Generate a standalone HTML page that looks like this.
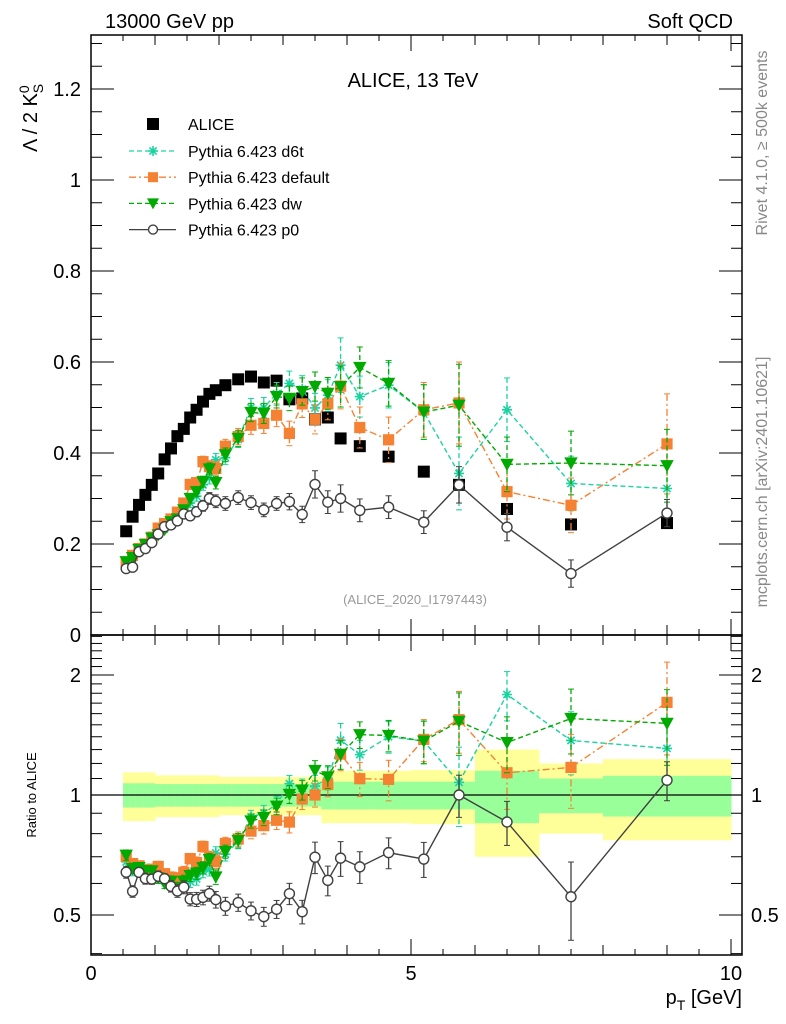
<!DOCTYPE html>
<html><head><meta charset="utf-8"><style>
body{margin:0;background:#fff;}
svg{display:block;font-family:"Liberation Sans",sans-serif;}
</style></head><body>
<svg id="chart" width="786" height="1024" viewBox="0 0 786 1024">
<defs>
<clipPath id="clipMain"><rect x="91" y="35" width="651" height="600"/></clipPath>
<clipPath id="clipRatio"><rect x="91" y="635" width="651" height="320"/></clipPath>
</defs>
<g id="bands" clip-path="url(#clipRatio)"></g>
<g id="axes"></g>
<g id="mainSeries" clip-path="url(#clipMain)"></g>
<g id="ratioSeries" clip-path="url(#clipRatio)"></g>
<text x="105" y="28" font-size="20">13000 GeV pp</text>
<text x="733" y="28" font-size="20" text-anchor="end">Soft QCD</text>
<text x="413" y="87" font-size="20" text-anchor="middle">ALICE, 13 TeV</text>
<text x="415" y="604" font-size="13" fill="#999" text-anchor="middle">(ALICE_2020_I1797443)</text>
<text transform="translate(767,143) rotate(-90)" font-size="16" fill="#888" text-anchor="middle">Rivet 4.1.0, ≥ 500k events</text>
<text transform="translate(767,482) rotate(-90)" font-size="16" fill="#888" text-anchor="middle">mcplots.cern.ch [arXiv:2401.10621]</text>
<text transform="translate(37,118) rotate(-90)" font-size="20" text-anchor="middle">Λ / 2 K<tspan font-size="14" dy="-8">0</tspan><tspan font-size="14" dx="-8" dy="14">S</tspan></text>
<text transform="translate(36,795) rotate(-90)" font-size="13" text-anchor="middle">Ratio to ALICE</text>
<text x="742" y="1004" font-size="20" text-anchor="end">p<tspan font-size="14" dy="6">T</tspan><tspan dy="-6"> [GeV]</tspan></text>
<g id="legend"></g>
</svg>
<script>
const edges=[0.5,0.6,0.7,0.8,0.9,1.0,1.1,1.2,1.3,1.4,1.5,1.6,1.7,1.8,1.9,2.0,2.2,2.4,2.6,2.8,3.0,3.2,3.4,3.6,3.8,4.0,4.4,5.0,5.5,6.0,7.0,8.0,10.0];
const pT=[0.55,0.65,0.75,0.85,0.95,1.05,1.15,1.25,1.35,1.45,1.55,1.65,1.75,1.85,1.95,2.1,2.3,2.5,2.7,2.9,3.1,3.3,3.5,3.7,3.9,4.2,4.65,5.2,5.75,6.5,7.5,9.0];
const alice=[0.228,0.260,0.286,0.308,0.330,0.355,0.386,0.410,0.437,0.453,0.478,0.495,0.513,0.530,0.538,0.549,0.562,0.568,0.555,0.559,0.518,0.520,0.474,0.478,0.432,0.415,0.392,0.359,0.330,0.277,0.243,0.246];
const yellowRel=[0.14,0.14,0.14,0.14,0.14,0.12,0.12,0.12,0.12,0.12,0.12,0.12,0.12,0.12,0.12,0.11,0.11,0.11,0.11,0.11,0.11,0.11,0.11,0.15,0.15,0.15,0.15,0.155,0.155,0.3,0.2,0.23];
const greenRel=[0.07,0.07,0.07,0.07,0.07,0.065,0.065,0.065,0.065,0.065,0.065,0.065,0.065,0.065,0.065,0.065,0.065,0.065,0.065,0.065,0.065,0.065,0.065,0.08,0.08,0.08,0.08,0.08,0.08,0.15,0.1,0.117];
const d6t=[0.155,0.168,0.185,0.195,0.21,0.22,0.235,0.245,0.255,0.275,0.29,0.305,0.33,0.345,0.385,0.39,0.43,0.50,0.50,0.53,0.553,0.54,0.499,0.527,0.593,0.524,0.549,0.49,0.355,0.495,0.333,0.322];
const d6tErr=[0.005,0.005,0.005,0.006,0.006,0.007,0.007,0.008,0.009,0.01,0.01,0.011,0.012,0.013,0.014,0.015,0.018,0.02,0.022,0.025,0.027,0.03,0.032,0.035,0.06,0.045,0.05,0.06,0.08,0.07,0.06,0.06];
const deflt=[0.16,0.175,0.19,0.2,0.215,0.235,0.245,0.255,0.27,0.29,0.331,0.335,0.381,0.370,0.366,0.415,0.436,0.461,0.465,0.483,0.443,0.508,0.474,0.508,0.547,0.456,0.429,0.495,0.51,0.315,0.285,0.42];
const defltErr=[0.005,0.005,0.005,0.006,0.006,0.007,0.007,0.008,0.009,0.01,0.01,0.011,0.012,0.013,0.014,0.015,0.018,0.02,0.022,0.025,0.027,0.03,0.032,0.035,0.05,0.045,0.05,0.06,0.09,0.06,0.06,0.11];
const dw=[0.161,0.17,0.188,0.199,0.213,0.22,0.232,0.249,0.255,0.275,0.3,0.315,0.337,0.365,0.335,0.396,0.432,0.489,0.487,0.524,0.520,0.535,0.546,0.531,0.546,0.588,0.553,0.49,0.505,0.375,0.378,0.372];
const dwErr=[0.005,0.005,0.005,0.006,0.006,0.007,0.007,0.008,0.009,0.01,0.01,0.011,0.012,0.013,0.014,0.015,0.018,0.02,0.022,0.025,0.027,0.03,0.032,0.035,0.045,0.045,0.05,0.06,0.09,0.06,0.07,0.08];
const p0=[0.146,0.149,0.183,0.190,0.203,0.222,0.238,0.242,0.251,0.266,0.262,0.271,0.284,0.300,0.294,0.289,0.302,0.291,0.275,0.289,0.293,0.265,0.331,0.292,0.300,0.274,0.281,0.248,0.330,0.237,0.135,0.268];
const p0Err=[0.005,0.005,0.005,0.006,0.006,0.007,0.007,0.008,0.009,0.01,0.01,0.011,0.012,0.013,0.014,0.015,0.015,0.015,0.015,0.015,0.018,0.018,0.03,0.025,0.03,0.025,0.025,0.025,0.04,0.03,0.03,0.03];
const mainTicks=[0,0.2,0.4,0.6,0.8,1,1.2];
const mainTickLabels=["0","0.2","0.4","0.6","0.8","1","1.2"];
const ratioTicks=[0.5,1,2];
const ratioTickLabels=["0.5","1","2"];
const xTicks=[0,5,10];
const xTickLabels=["0","5","10"];

const NS="http://www.w3.org/2000/svg";
const L=91,R=742,X0=91,XS=64;
const sx=v=>X0+v*XS;
const sy=v=>635-v*455;
const sr=v=>795-120*Math.log2(v);
function mk(tag,attrs,parent){const e=document.createElementNS(NS,tag);for(const k in attrs)e.setAttribute(k,attrs[k]);parent.appendChild(e);return e;}
const axes=document.getElementById('axes');
let f1=mk('rect',{x:L,y:35,width:R-L,height:600,fill:'none',stroke:'#000','stroke-width':1.5},axes);


let f2=mk('rect',{x:L,y:635,width:R-L,height:320,fill:'none',stroke:'#000','stroke-width':1.5},axes);


for(let i=0;i<=20;i++){const v=i*0.5;const x=sx(v);const len=(i%10==0)?16:(i%2==0?10:6);
 mk('line',{x1:x,y1:955,x2:x,y2:955-len,stroke:'#000'},axes);
 mk('line',{x1:x,y1:635,x2:x,y2:635-len,stroke:'#000'},axes);
 mk('line',{x1:x,y1:35,x2:x,y2:35+len,stroke:'#000'},axes);
 mk('line',{x1:x,y1:635,x2:x,y2:635+len,stroke:'#000'},axes);}
xTicks.forEach((v,i)=>{const t=mk('text',{x:sx(v),y:980,'font-size':20,'text-anchor':'middle'},axes);t.textContent=xTickLabels[i];
 
 });
for(let i=0;i<=26;i++){const v=i*0.05;const y=sy(v);if(y<35)continue;const len=(i%4==0)?23:11;
 mk('line',{x1:L,y1:y,x2:L+len,y2:y,stroke:'#000'},axes);
 mk('line',{x1:R,y1:y,x2:R-len,y2:y,stroke:'#000'},axes);}
mainTicks.forEach((v,i)=>{const t=mk('text',{x:81,y:sy(v)+7,'font-size':20,'text-anchor':'end'},axes);t.textContent=mainTickLabels[i];
 
 });
for(let v=0.4;v<2.55;v+=0.1){const vv=Math.round(v*10)/10;const y=sr(vv);if(y<636||y>954)continue;const maj=(vv==0.5||vv==1||vv==2);const len=maj?23:11;
 mk('line',{x1:L,y1:y,x2:L+len,y2:y,stroke:'#000'},axes);
 mk('line',{x1:R,y1:y,x2:R-len,y2:y,stroke:'#000'},axes);}
ratioTicks.forEach((v,i)=>{const t=mk('text',{x:81,y:sr(v)+7,'font-size':20,'text-anchor':'end'},axes);t.textContent=ratioTickLabels[i];
 
 
 const t2=mk('text',{x:751,y:sr(v)+7,'font-size':20},axes);t2.textContent=ratioTickLabels[i];
 
 });
const bands=document.getElementById('bands');
for(let i=0;i<alice.length;i++){const x1=sx(edges[i]),x2=sx(edges[i+1]);
 const yb=mk('rect',{x:x1,y:sr(1+yellowRel[i]),width:x2-x1+0.5,height:sr(1-yellowRel[i])-sr(1+yellowRel[i]),fill:'#ffff99'},bands);
 
 
 const gb=mk('rect',{x:x1,y:sr(1+greenRel[i]),width:x2-x1+0.5,height:sr(1-greenRel[i])-sr(1+greenRel[i]),fill:'#99ff99'},bands);
 
 }
const one=mk('line',{x1:L,y1:795,x2:R,y2:795,stroke:'#000','stroke-width':1.3},bands);



function marker(type,x,y,color,g,big){
 const s=big?1.12:1;let e;
 if(type=='sq'){e=mk('rect',{x:x-5*s,y:y-5*s,width:10*s,height:10*s,fill:color},g);}
 else if(type=='bsq'){e=mk('rect',{x:x-6,y:y-6,width:12,height:12,fill:color},g);}
 else if(type=='tri'){e=mk('path',{d:`M${x-6*s},${y-5*s}L${x+6*s},${y-5*s}L${x},${y+6*s}Z`,fill:color},g);}
 else if(type=='star'){e=mk('path',{d:`M${x-5},${y}H${x+5}M${x},${y-5}V${y+5}M${x-3.6},${y-3.6}L${x+3.6},${y+3.6}M${x-3.6},${y+3.6}L${x+3.6},${y-3.6}`,stroke:color,'stroke-width':1.6,fill:'none'},g);}
 else if(type=='circ'){e=mk('circle',{cx:x,cy:y,r:5,fill:'#fff',stroke:color,'stroke-width':1.4},g);}
 return e;}
const series=[
 {name:'d6t',vals:d6t,err:d6tErr,color:'#1ad3a0',dash:'5,3',m:'star',label:'Pythia 6.423 d6t'},
 {name:'default',vals:deflt,err:defltErr,color:'#f58233',dash:'7,3,2,3',m:'sq',label:'Pythia 6.423 default'},
 {name:'dw',vals:dw,err:dwErr,color:'#00aa00',dash:'5,3',m:'tri',label:'Pythia 6.423 dw'},
 {name:'p0',vals:p0,err:p0Err,color:'#404040',dash:'',m:'circ',label:'Pythia 6.423 p0'}];
const gm=document.getElementById('mainSeries'),gr=document.getElementById('ratioSeries');
alice.forEach((v,i)=>{const m=marker('bsq',sx(pT[i]),sy(v),'#000',gm);
 
 });
series.forEach(s=>{
 const g1=mk('g',{},gm);
 
 const g2=mk('g',{},gr);
 
 const pm=s.vals.map((v,i)=>sx(pT[i])+','+sy(v)).join(' ');
 const pr=s.vals.map((v,i)=>sx(pT[i])+','+sr(v/alice[i])).join(' ');
 const la={fill:'none',stroke:s.color,'stroke-width':1.4};if(s.dash)la['stroke-dasharray']=s.dash;
 const l1=mk('polyline',Object.assign({points:pm},la),g1);
 
 const l2=mk('polyline',Object.assign({points:pr},la),g2);
 
 s.vals.forEach((v,i)=>{const x=sx(pT[i]);
  const ea={stroke:s.color,'stroke-width':1.3};if(s.dash)ea['stroke-dasharray']=s.dash;
  const ya=sy(v+s.err[i]),yb=sy(v-s.err[i]);
  mk('line',Object.assign({x1:x,y1:ya,x2:x,y2:yb},ea),g1);
  mk('line',{x1:x-3,y1:ya,x2:x+3,y2:ya,stroke:s.color},g1);mk('line',{x1:x-3,y1:yb,x2:x+3,y2:yb,stroke:s.color},g1);
  const r=v/alice[i],re=s.err[i]/alice[i];const ra=sr(r+re),rb=sr(Math.max(r-re,0.05));
  mk('line',Object.assign({x1:x,y1:ra,x2:x,y2:rb},ea),g2);
  mk('line',{x1:x-3,y1:ra,x2:x+3,y2:ra,stroke:s.color},g2);mk('line',{x1:x-3,y1:rb,x2:x+3,y2:rb,stroke:s.color},g2);
  const m1=marker(s.m,x,sy(v),s.color,g1,true);
  
  
  const m2=marker(s.m,x,sr(r),s.color,g2,true);
  
  });
});
const lg=document.getElementById('legend');
const la0=marker('bsq',153,124,'#000',lg);

const lt0=mk('text',{x:188,y:130,'font-size':16},lg);lt0.textContent='ALICE';


series.forEach((s,i)=>{const y=151+i*26.2;
 const a={x1:129,y1:y,x2:176,y2:y,stroke:s.color,'stroke-width':1.3};if(s.dash)a['stroke-dasharray']=s.dash;
 const ln=mk('line',a,lg);
 
 const m=marker(s.m,153,y,s.color,lg,false);
 if(s.m=='circ'){m.setAttribute('r',4.5);}
 
 
 const t=mk('text',{x:188,y:y+6,'font-size':16},lg);t.textContent=s.label;
 
 });
</script>
</body></html>
